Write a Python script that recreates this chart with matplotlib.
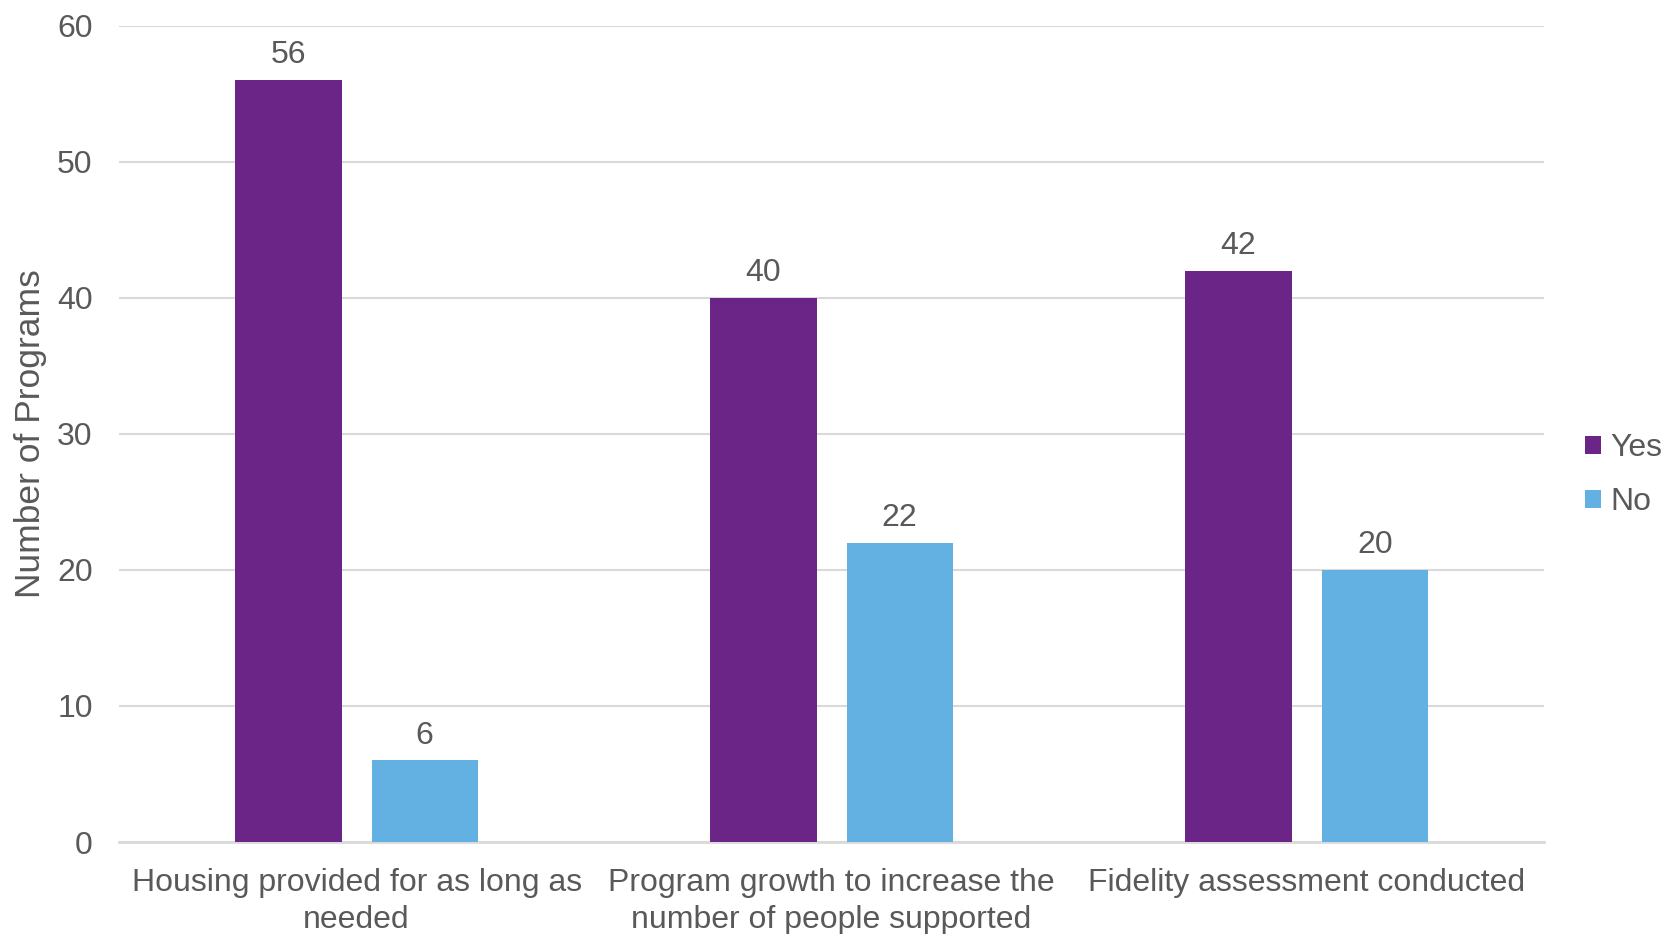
import matplotlib.pyplot as plt
import numpy as np

plt.rcParams['font.family'] = ['Liberation Sans', 'DejaVu Sans']

labels = ["Housing provided for as long as\nneeded",
          "Program growth to increase the\nnumber of people supported",
          "Fidelity assessment conducted"]
yes = [56, 40, 42]
no = [6, 22, 20]

grey = '#595959'
purple = '#6B2587'
blue = '#63B0E3'

x = np.arange(len(labels))
width = 0.224
offset = 0.1435

fig = plt.figure(figsize=(16.7, 9.34), dpi=100)
ax = fig.add_axes([0.0713, 0.0985, 0.8533, 0.8741])

r1 = ax.bar(x - offset, yes, width, color=purple, label='Yes', zorder=3)
r2 = ax.bar(x + offset, no, width, color=blue, label='No', zorder=3)

ax.bar_label(r1, padding=7, fontsize=23, color=grey)
ax.bar_label(r2, padding=7, fontsize=23, color=grey)

ax.set_xlim(-0.5, 2.5)
ax.set_ylim(0, 60)
ax.set_yticks(range(0, 61, 10))
ax.set_xticks(x, labels)
ax.tick_params(axis='both', length=0, labelsize=23, labelcolor=grey)
ax.tick_params(axis='x', pad=19)
ax.tick_params(axis='y', pad=19)
for t in ax.get_xticklabels():
    t.set_linespacing(1.3)
ax.grid(axis='y', color='#D9D9D9', linewidth=1.5, zorder=0)
for s in ['top', 'right', 'left']:
    ax.spines[s].set_visible(False)
ax.spines['bottom'].set_color('#D9D9D9')
ax.spines['bottom'].set_linewidth(2)

ax.set_ylabel('Number of Programs', fontsize=25.5, color=grey, labelpad=7)

leg = ax.legend(loc='center left', bbox_to_anchor=(1.013, 0.449), frameon=False,
                fontsize=23, handlelength=0.5, handleheight=0.5, handletextpad=0.3,
                labelspacing=0.75, labelcolor=grey, borderaxespad=0.3)

fig.savefig('out.png', dpi=100)
